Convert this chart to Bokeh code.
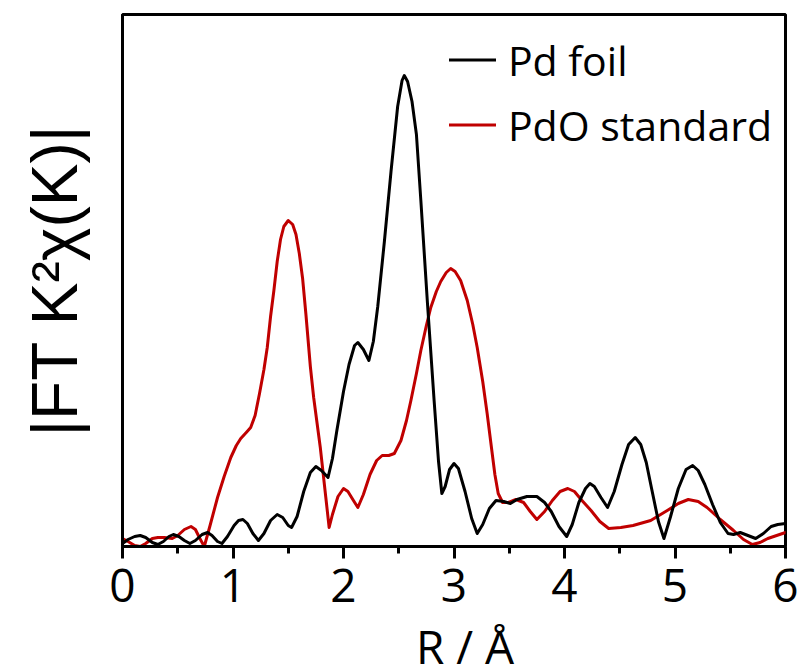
from bokeh.plotting import figure
from bokeh.layouts import column
from bokeh.models import Range1d, FixedTicker, Legend, LegendItem
from bokeh.core.properties import value
from bokeh.embed import file_html
from bokeh.resources import INLINE

# ---- data (R in Å, |FT| in arbitrary units) ----
r_foil = [0.00, 0.05, 0.11, 0.16, 0.21, 0.27, 0.32, 0.37, 0.42, 0.46, 0.51, 0.56,
          0.61, 0.66, 0.72, 0.77, 0.81, 0.86, 0.90, 0.95, 1.01, 1.05, 1.09, 1.13,
          1.18, 1.23, 1.28, 1.34, 1.40, 1.45, 1.50, 1.53, 1.58, 1.64, 1.70, 1.75,
          1.80, 1.86, 1.90, 1.94, 2.00, 2.05, 2.10, 2.13, 2.18, 2.23, 2.27, 2.31,
          2.37, 2.43, 2.49, 2.53, 2.55, 2.58, 2.62, 2.66, 2.70, 2.76, 2.82, 2.86,
          2.89, 2.92, 2.96, 3.00, 3.04, 3.10, 3.16, 3.21, 3.26, 3.32, 3.38, 3.45,
          3.51, 3.57, 3.66, 3.75, 3.82, 3.88, 3.95, 4.02, 4.07, 4.13, 4.19, 4.23,
          4.27, 4.33, 4.39, 4.45, 4.52, 4.58, 4.64, 4.69, 4.74, 4.79, 4.85, 4.90,
          4.96, 5.03, 5.10, 5.16, 5.21, 5.27, 5.34, 5.41, 5.48, 5.53, 5.59, 5.66,
          5.73, 5.80, 5.87, 5.93, 6.00]
ft_foil = [0.03, 0.07, 0.10, 0.11, 0.09, 0.04, 0.02, 0.05, 0.10, 0.12, 0.10, 0.06,
           0.03, 0.06, 0.12, 0.14, 0.11, 0.05, 0.03, 0.10, 0.21, 0.26, 0.27, 0.23,
           0.13, 0.06, 0.13, 0.26, 0.32, 0.29, 0.21, 0.19, 0.30, 0.55, 0.74, 0.80,
           0.76, 0.69, 0.88, 1.16, 1.55, 1.82, 2.01, 2.04, 1.97, 1.86, 2.05, 2.40,
           3.05, 3.75, 4.40, 4.66, 4.71, 4.65, 4.45, 4.12, 3.46, 2.43, 1.46, 0.85,
           0.53, 0.60, 0.77, 0.83, 0.78, 0.55, 0.28, 0.13, 0.22, 0.38, 0.46, 0.45,
           0.43, 0.47, 0.50, 0.50, 0.44, 0.35, 0.20, 0.10, 0.22, 0.44, 0.58, 0.63,
           0.60, 0.49, 0.39, 0.55, 0.82, 1.02, 1.09, 1.02, 0.84, 0.57, 0.25, 0.08,
           0.30, 0.58, 0.77, 0.81, 0.76, 0.62, 0.42, 0.24, 0.13, 0.12, 0.14, 0.11,
           0.08, 0.13, 0.20, 0.22, 0.23]

r_pdo = [0.00, 0.05, 0.11, 0.16, 0.21, 0.27, 0.32, 0.38, 0.45, 0.50, 0.56, 0.62,
         0.66, 0.70, 0.74, 0.79, 0.86, 0.92, 0.98, 1.03, 1.07, 1.12, 1.16, 1.20,
         1.24, 1.28, 1.31, 1.34, 1.37, 1.40, 1.43, 1.46, 1.50, 1.54, 1.57, 1.60,
         1.63, 1.66, 1.70, 1.73, 1.79, 1.84, 1.87, 1.90, 1.95, 2.00, 2.04, 2.09,
         2.13, 2.18, 2.24, 2.30, 2.35, 2.41, 2.46, 2.52, 2.57, 2.61, 2.66, 2.70,
         2.75, 2.79, 2.84, 2.88, 2.93, 2.97, 3.01, 3.06, 3.12, 3.17, 3.21, 3.26,
         3.30, 3.34, 3.37, 3.40, 3.44, 3.49, 3.56, 3.63, 3.69, 3.75, 3.82, 3.89,
         3.96, 4.03, 4.09, 4.15, 4.24, 4.32, 4.40, 4.51, 4.62, 4.78, 4.93, 5.03,
         5.12, 5.21, 5.29, 5.41, 5.53, 5.62, 5.70, 5.77, 5.84, 5.92, 6.00]
ft_pdo = [0.08, 0.05, 0.01, 0.00, 0.03, 0.08, 0.09, 0.09, 0.08, 0.11, 0.17, 0.20,
          0.17, 0.08, 0.00, 0.20, 0.49, 0.70, 0.89, 1.01, 1.08, 1.14, 1.19, 1.31,
          1.53, 1.77, 1.99, 2.30, 2.56, 2.85, 3.07, 3.20, 3.26, 3.22, 3.12, 2.93,
          2.68, 2.32, 1.80, 1.49, 0.99, 0.49, 0.19, 0.32, 0.50, 0.58, 0.55, 0.46,
          0.39, 0.52, 0.72, 0.86, 0.91, 0.91, 0.93, 1.06, 1.26, 1.46, 1.73, 1.96,
          2.21, 2.39, 2.55, 2.65, 2.74, 2.78, 2.75, 2.66, 2.46, 2.22, 1.99, 1.65,
          1.33, 0.98, 0.72, 0.53, 0.44, 0.44, 0.47, 0.44, 0.35, 0.27, 0.35, 0.46,
          0.55, 0.58, 0.55, 0.47, 0.36, 0.25, 0.18, 0.19, 0.21, 0.26, 0.36, 0.43,
          0.47, 0.45, 0.39, 0.27, 0.16, 0.07, 0.02, 0.04, 0.08, 0.11, 0.14]

series_names = ["Pd foil", "PdO standard"]
x_ticks = [0, 1, 2, 3, 4, 5, 6]
x_minor = [0.5, 1.5, 2.5, 3.5, 4.5, 5.5]
x_title = "R / Å"
y_title = "|FT K²χ(K)|"

# ---- main plot (frame 122..785 x 14..546 in window pixels) ----
p = figure(width=799, height=619, x_range=Range1d(0, 6), y_range=Range1d(0, 5.32),
           output_backend="svg", toolbar_location=None,
           min_border_left=122, min_border_right=14, min_border_top=14,
           min_border_bottom=73)
p.grid.visible = False
p.outline_line_color = "black"
p.outline_line_width = 3
p.outline_line_alpha = 1.0
p.background_fill_color = "white"
p.border_fill_color = "white"

ax = p.xaxis[0]
ax.ticker = FixedTicker(ticks=x_ticks, minor_ticks=x_minor)
ax.axis_line_width = 3
ax.axis_line_color = "black"
ax.major_tick_line_width = 3
ax.major_tick_line_color = "black"
ax.major_tick_out = 12
ax.major_tick_in = 0
ax.minor_tick_line_width = 3
ax.minor_tick_line_color = "black"
ax.minor_tick_out = 7
ax.minor_tick_in = 0
ax.major_label_text_font = "Open Sans"
ax.major_label_text_font_size = "46px"
ax.major_label_text_color = "black"
ax.major_label_standoff = 10

yax = p.yaxis[0]
yax.ticker = FixedTicker(ticks=[], minor_ticks=[])
yax.major_tick_out = 0
yax.major_tick_in = 0
yax.minor_tick_out = 0
yax.minor_tick_in = 0
yax.axis_line_width = 3
yax.axis_line_color = "black"
yax.axis_label = y_title
yax.axis_label_text_font = "Liberation Sans"
yax.axis_label_text_font_size = "64px"
yax.axis_label_text_font_style = "normal"
yax.axis_label_text_color = "black"
yax.axis_label_standoff = 32

r_red = p.line(r_pdo, ft_pdo, line_color="#C00000", line_width=3,
               line_join="round", line_cap="round")
r_blk = p.line(r_foil, ft_foil, line_color="black", line_width=3,
               line_join="round", line_cap="round")

legend = Legend(items=[LegendItem(label=series_names[0], renderers=[r_blk]),
                       LegendItem(label=series_names[1], renderers=[r_red])],
                location="top_right", label_text_font="Open Sans",
                label_text_font_size="41px", label_text_color="black",
                glyph_width=47, glyph_height=65, label_height=65, spacing=0,
                padding=0, margin=13, label_standoff=12,
                border_line_alpha=0, background_fill_alpha=0)
p.add_layout(legend)

# ---- x title strip below (shares the x range, 51 px tall) ----
tf = figure(width=799, height=51, x_range=p.x_range, y_range=Range1d(0, 51),
            output_backend="svg", toolbar_location=None,
            x_axis_location=None, y_axis_location=None,
            min_border_left=122, min_border_right=14, min_border_top=0,
            min_border_bottom=0)
tf.grid.visible = False
tf.outline_line_color = None
tf.background_fill_color = "white"
tf.border_fill_color = "white"
tf.text(x=[3.10], y=[25], text=[x_title], text_font=value("Open Sans"),
        text_font_size="46px", text_color="black", text_align="center",
        text_baseline="middle")

layout = column(p, tf)
open("out.html", "w").write(file_html(layout, INLINE))
